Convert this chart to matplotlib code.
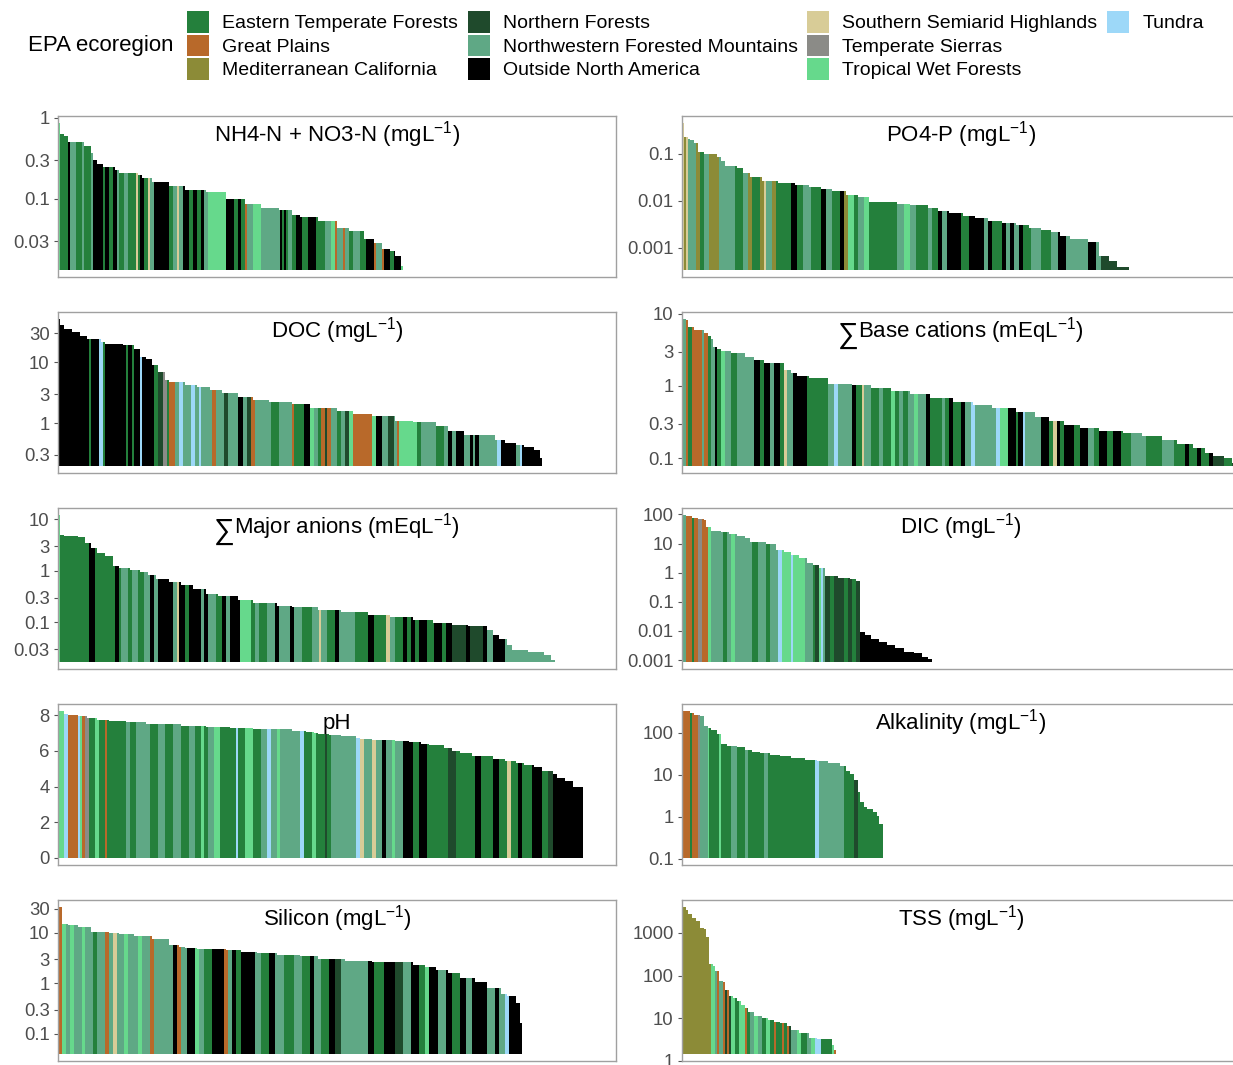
import numpy as np
import matplotlib
matplotlib.use('Agg')
import matplotlib.pyplot as plt
from matplotlib.patches import Patch
from matplotlib.ticker import NullLocator

plt.rcParams['font.family'] = ['Liberation Sans', 'DejaVu Sans']
plt.rcParams['mathtext.fontset'] = 'custom'
plt.rcParams['mathtext.rm'] = 'Liberation Sans'
plt.rcParams['mathtext.it'] = 'Liberation Sans:italic'

# ecoregion codes, legend labels and colours
region_codes = ['E', 'G', 'M', 'N', 'W', 'X', 'S', 'T', 'P', 'U']
region_names = ['Eastern Temperate Forests', 'Great Plains', 'Mediterranean California',
                'Northern Forests', 'Northwestern Forested Mountains', 'Outside North America',
                'Southern Semiarid Highlands', 'Temperate Sierras', 'Tropical Wet Forests', 'Tundra']
region_colors = ['#24803C', '#B8692A', '#8C8B37', '#1F4A2C', '#5FA885', '#000000',
                 '#D8CC97', '#8B8B87', '#66D98C', '#9DD8F8']

# bar heights as (number of sites, value) steps, sorted from high to low
nh4_steps = [(1,0.85),(2,0.63),(2,0.6),(8,0.5),(4,0.45),(1,0.37),(2,0.3),(3,0.27),(6,0.25),(2,0.23),
             (10,0.21),(2,0.195),(5,0.18),(9,0.16),(8,0.145),(11,0.13),(10,0.12),(10,0.1),(8,0.086),
             (9,0.077),(7,0.074),(4,0.064),(9,0.06),(10,0.054),(6,0.044),(8,0.04),(5,0.032),(4,0.029),
             (4,0.024),(3,0.023),(3,0.02),(1,0.0148)]
nh4_regions = ("P1 E4 X1 W3 E3 W1 E4 W1 X5 E1 X2 E2 X2 W1 E3 W2 E4 S1 E1 X2 E2 S1 W2 X8 E2 W2 S1 W2 "
               "X3 E2 X2 E2 X2 W2 P9 X4 E2 X2 E2 G1 W3 P4 W10 X1 E1 X1 E1 W2 E2 X3 E3 X4 E5 W3 P2 G1 "
               "W3 G1 W2 E2 W4 E3 X4 G1 W1 W2 G1 X1 X2 E2 X4 P1")

po4_steps = [(1,0.45),(2,0.23),(1,0.21),(2,0.2),(2,0.17),(3,0.11),(7,0.1),(2,0.088),(2,0.069),(6,0.054),
             (3,0.05),(4,0.039),(6,0.033),(8,0.027),(9,0.024),(7,0.022),(6,0.02),(6,0.018),(7,0.016),
             (6,0.013),(6,0.012),(14,0.0095),(7,0.0086),(9,0.0083),(5,0.0071),(6,0.006),(7,0.0054),
             (6,0.0047),(7,0.0043),(7,0.0038),(7,0.0034),(7,0.0031),(6,0.0026),(5,0.0024),(5,0.0022),
             (5,0.0018),(9,0.0015),(6,0.0013),(5,0.00067),(4,0.00053),(6,0.00038)]
po4_regions = ("S1 M1 S1 W4 M2 E2 W3 M5 W8 E4 W3 M2 E4 M2 S1 W3 M2 E2 E6 X2 E3 W4 E5 X3 W3 E4 X2 M2 "
               "P3 E2 W3 P3 E14 W4 P3 W3 E6 W2 E3 X2 W3 X7 E4 X8 W2 X2 E5 X2 W2 X2 W2 X2 E4 W5 E5 W4 "
               "X4 W11 X4 W3 N14")

doc_steps = [(1,51),(2,41),(4,36),(4,32),(4,27),(7,24),(2,22),(9,20),(6,19),(3,16.5),(3,12.4),(3,11.2),
             (3,9),(4,7),(2,5.1),(8,4.7),(6,4.3),(7,4.0),(6,3.5),(8,3.1),(8,2.7),(8,2.4),(12,2.2),
             (9,2.05),(14,1.8),(8,1.6),(10,1.4),(12,1.3),(9,1.1),(12,1.04),(6,0.91),(8,0.74),(16,0.63),
             (5,0.53),(6,0.47),(4,0.44),(5,0.40),(3,0.36),(1,0.27)]
doc_regions = ("X16 E1 X4 U2 E1 X10 E1 X2 E1 X3 U1 X6 E2 N3 T2 E1 G3 W2 U2 W4 U2 W2 U1 W6 G2 W4 N2 "
               "W5 X2 W2 N2 G2 W8 E4 W7 G1 E5 X3 P2 W2 E2 G2 N1 G2 W3 E2 W2 N2 P2 G9 P2 X3 W3 N3 W2 "
               "G1 P9 E2 W8 E4 W2 X2 W2 X4 W3 X2 W1 X2 W2 W6 U2 X8 W2 U1 X10")

cat_steps = [(2,8.4),(1,8.1),(3,6.6),(5,5.9),(2,5.5),(2,4.9),(1,4.5),(2,3.5),(2,3.3),(5,3.1),(7,2.9),
             (5,2.55),(5,2.3),(10,2.05),(4,1.66),(3,1.5),(6,1.39),(10,1.28),(12,1.07),(10,1.03),
             (10,0.93),(10,0.86),(10,0.77),(12,0.68),(10,0.60),(10,0.54),(12,0.49),(10,0.44),(7,0.37),
             (8,0.33),(8,0.29),(10,0.26),(12,0.24),(10,0.22),(10,0.20),(8,0.18),(8,0.156),(6,0.14),
             (4,0.116),(6,0.107),(4,0.1),(2,0.085)]
cat_regions = ("W2 G1 E2 G5 W1 G2 E2 W2 X1 E2 P2 W3 E3 W9 X3 E2 X3 W2 X3 E2 S2 W3 X7 E10 W3 U2 W7 X2 "
               "E3 S1 W4 E4 W2 E4 P2 E2 W2 E3 W3 P2 W4 X2 E6 W2 E2 X2 E4 X2 W3 U2 W11 U2 P4 X4 E1 X3 "
               "U1 W8 X4 E2 S2 X2 E2 X5 E3 X4 W3 E2 X4 E3 X4 E5 W8 E8 W6 E6 X2 E4 X2 E4 X2 N6 E4 N2")

an_steps = [(1,12),(2,5.0),(7,4.8),(4,4.5),(3,3.4),(3,2.8),(4,2.2),(4,1.9),(3,1.25),(6,1.15),(5,1.02),
            (4,0.93),(4,0.81),(7,0.68),(6,0.60),(6,0.52),(7,0.44),(6,0.35),(10,0.32),(8,0.27),(12,0.24),
            (8,0.21),(13,0.195),(12,0.175),(14,0.155),(11,0.138),(12,0.125),(10,0.112),(10,0.098),
            (8,0.089),(10,0.084),(3,0.069),(3,0.055),(4,0.048),(3,0.036),(8,0.029),(8,0.026),(4,0.023),
            (2,0.018)]
an_regions = ("P1 E15 X2 E10 X2 E1 W4 E2 W3 E3 W3 X2 W2 X7 W2 S1 X3 E2 X6 W2 X2 W4 E3 X2 W2 X4 P6 E2 "
              "W2 E4 W4 X2 W6 X2 W4 E4 W4 S1 W3 E4 X2 W8 E7 X3 E5 S2 W3 E4 X2 E2 X2 E2 X4 E4 X4 E2 X2 "
              "N7 X2 N7 X2 W3 X6 W25")

dic_steps = [(2,93),(3,86),(3,77),(3,71),(1,63),(3,37),(5,27),(4,25),(4,22),(4,18),(3,15),(8,11.6),
             (5,10),(4,6),(4,5),(4,4.1),(4,3.2),(3,2.1),(3,1.8),(3,1.45),(2,0.79),(5,0.76),(6,0.66),
             (3,0.59),(2,0.52),(3,0.0091),(3,0.0074),(4,0.0054),(4,0.0042),(4,0.0032),(5,0.0025),
             (5,0.0019),(4,0.0017),(3,0.0013),(2,0.0011)]
dic_regions = ("W2 G3 E1 G2 T2 G3 P2 W6 E2 W2 P2 W9 E3 W4 E2 W4 U2 P5 U1 P6 W4 E1 N2 P1 U1 W1 N3 E2 "
               "N5 E2 N2 E2 N2 X37")

ph_steps = [(3,8.23),(2,8.08),(5,8.0),(5,7.95),(5,7.85),(6,7.76),(9,7.67),(10,7.62),(8,7.54),(10,7.49),
            (13,7.43),(12,7.36),(12,7.30),(12,7.26),(8,7.21),(7,7.15),(4,7.06),(2,6.99),(6,6.93),
            (6,6.9),(8,6.84),(2,6.75),(6,6.69),(12,6.62),(7,6.56),(6,6.51),(4,6.41),(8,6.32),(4,6.14),
            (4,6.0),(6,5.91),(11,5.73),(6,5.55),(6,5.42),(4,5.3),(5,5.21),(4,5.08),(6,4.9),(2,4.71),
            (4,4.49),(4,4.31),(5,3.97)]
ph_regions = ("P3 U2 G5 U1 P1 G2 T2 E3 P2 E3 G1 E9 W2 E3 W3 W4 E4 W4 E4 W4 E4 W3 E3 P2 E2 W3 P2 E8 "
              "U1 E4 P4 E4 W3 U2 W3 P2 W10 U2 E4 P2 E4 N1 E2 W13 U2 S2 W4 S2 W3 X2 W3 P2 W4 X5 E3 X3 "
              "E3 E8 N4 E7 E3 X3 E6 X3 E4 S2 E4 X2 E4 X5 E3 N3 X15")

alk_steps = [(4,322),(2,294),(3,270),(2,246),(2,143),(2,131),(3,113),(2,91),(3,53),(5,49),(4,45),
             (4,38.5),(4,35),(5,33),(5,30),(6,28.3),(7,25),(6,23),(6,21),(6,18.8),(3,16.5),(2,12.6),
             (2,10.5),(2,7.6),(1,3.9),(2,2.3),(2,1.75),(3,1.5),(2,1.33),(1,1.02),(2,0.69)]
alk_regions = "G4 E1 G3 T1 W4 P1 E5 P1 E5 W2 E4 W2 E8 W2 E24 U2 W12 E5 N2 E13"

si_steps = [(2,32),(3,15.2),(5,14.1),(7,13.1),(9,10.5),(5,9.7),(8,9.3),(9,8.6),(9,7.5),(5,5.7),(3,5.3),
            (6,5.1),(15,4.8),(8,4.6),(8,4.2),(10,3.9),(12,3.6),(9,3.4),(14,3.0),(14,2.8),(21,2.6),
            (6,2.3),(6,2.06),(6,1.85),(6,1.6),(8,1.26),(6,1.06),(7,0.81),(3,0.62),(5,0.56),(2,0.41),
            (1,0.165)]
si_regions = ("G2 P2 W2 P2 W4 P2 W4 E2 W4 G2 W2 S2 W4 P2 W4 P2 W4 G2 W10 X2 G2 W3 X4 P2 W3 E4 X6 G2 "
              "W2 X2 E3 X7 W3 E4 X3 W5 E4 W4 E4 X2 W4 E4 X3 N3 W14 X3 E5 X6 N4 W4 X4 E3 P2 X5 W3 X3 "
              "E4 X3 W3 X3 X5 W4 X2 W3 U2 X7")

tss_steps = [(2,3980),(1,3450),(2,2800),(2,2220),(2,1860),(2,1300),(1,1240),(2,810),(2,185),(1,165),
             (2,131),(2,73),(1,70),(2,45),(2,34),(2,30),(2,25),(2,20),(2,17),(3,13.7),(4,11.5),(3,10),
             (3,8.9),(3,8.4),(4,7.7),(2,6.7),(4,5.4),(5,4.5),(4,3.4),(8,3.2),(1,2.4),(1,1.77)]
tss_regions = ("M14 P2 W1 G1 W2 G1 N1 G1 N1 P2 E2 P2 G1 E2 W2 P2 W2 E2 P2 E2 G1 E2 G1 E2 G1 N1 W3 P2 "
               "E3 W2 P2 U2 E6 P1 G1")

# panel titles (a leading '∑' is drawn larger), bar baselines, y ticks
panels = [
    (r'NH4-N + NO3-N (mgL$^{-1}$)', nh4_steps, nh4_regions, 0.0135, [0.03, 0.1, 0.3, 1], ['0.03', '0.1', '0.3', '1']),
    (r'PO4-P (mgL$^{-1}$)', po4_steps, po4_regions, 0.00034, [0.001, 0.01, 0.1], ['0.001', '0.01', '0.1']),
    (r'DOC (mgL$^{-1}$)', doc_steps, doc_regions, 0.2, [0.3, 1, 3, 10, 30], ['0.3', '1', '3', '10', '30']),
    (r'∑Base cations (mEqL$^{-1}$)', cat_steps, cat_regions, 0.0785, [0.1, 0.3, 1, 3, 10], ['0.1', '0.3', '1', '3', '10']),
    (r'∑Major anions (mEqL$^{-1}$)', an_steps, an_regions, 0.017, [0.03, 0.1, 0.3, 1, 3, 10], ['0.03', '0.1', '0.3', '1', '3', '10']),
    (r'DIC (mgL$^{-1}$)', dic_steps, dic_regions, 0.00088, [0.001, 0.01, 0.1, 1, 10, 100], ['0.001', '0.01', '0.1', '1', '10', '100']),
    ('pH', ph_steps, ph_regions, 0.0, [0, 2, 4, 6, 8], ['0', '2', '4', '6', '8']),
    (r'Alkalinity (mgL$^{-1}$)', alk_steps, alk_regions, 0.107, [0.1, 1, 10, 100], ['0.1', '1', '10', '100']),
    (r'Silicon (mgL$^{-1}$)', si_steps, si_regions, 0.04, [0.1, 0.3, 1, 3, 10, 30], ['0.1', '0.3', '1', '3', '10', '30']),
    (r'TSS (mgL$^{-1}$)', tss_steps, tss_regions, 1.48, [1, 10, 100, 1000], ['1', '10', '100', '1000']),
]

N_MAX = 286
color_of = dict(zip(region_codes, region_colors))


def expand_steps(steps):
    vals = []
    for n, v in steps:
        vals += [v] * n
    return np.array(vals, dtype=float)


def expand_regions(runs, n):
    # run-length codes, fitted to the number of bars
    codes = [(r[0], int(r[1:])) for r in runs.split()]
    total = sum(c for _, c in codes)
    out = []
    acc = 0
    for code, c in codes:
        start = int(round(acc * n / total))
        acc += c
        end = int(round(acc * n / total))
        out += [code] * (end - start)
    return out[:n]


W, H = 1233, 1065
fig = plt.figure(figsize=(W / 100, H / 100), dpi=100)

col_x = [58, 682]
row_top = [116, 312, 508, 704, 900]
ax_w, ax_h = 558, 161
TITLE_FS = 16

for k, (title, steps, runs, base, ticks, labels) in enumerate(panels):
    row, col = divmod(k, 2)
    ax = fig.add_axes([col_x[col] / W, (H - row_top[row] - ax_h) / H, ax_w / W, ax_h / H])
    vals = expand_steps(steps)
    regs = expand_regions(runs, len(vals))
    x = np.arange(1, len(vals) + 1)
    ax.bar(x, vals - base, bottom=base, width=1.0, color=[color_of[r] for r in regs],
           linewidth=0, antialiased=False)
    if title == 'pH':
        lo, hi = base, vals.max()
        pad = 0.05 * (hi - lo)
        ax.set_ylim(lo - pad, hi + pad)
    else:
        ax.set_yscale('log')
        lo, hi = np.log10(base), np.log10(vals.max())
        pad = 0.05 * (hi - lo)
        ax.set_ylim(10 ** (lo - pad), 10 ** (hi + pad))
    ax.set_xlim(0.4, N_MAX + 0.6)
    ax.set_yticks(ticks)
    ax.set_yticklabels(labels)
    ax.yaxis.set_minor_locator(NullLocator())
    ax.set_xticks([])
    ax.tick_params(axis='y', length=3, width=0.8, color='#555555', labelcolor='#4D4D4D',
                   labelsize=13.3, pad=3)
    for s in ax.spines.values():
        s.set_color('#A0A0A0')
        s.set_linewidth(1.0)
    ty = 1 - 19 / ax_h
    if title.startswith('∑'):
        # big summation sign left of the rest of the title
        t = ax.text(0.5 + 10 / ax_w, ty, title[1:], transform=ax.transAxes, ha='center',
                    va='center', fontsize=TITLE_FS, color='black')
        ax.annotate('∑', xy=(0, 0.5), xycoords=t, xytext=(0, -3), textcoords='offset points',
                    ha='right', va='center', fontsize=21, color='black')
    else:
        ax.text(0.5, ty, title, transform=ax.transAxes, ha='center', va='center',
                fontsize=TITLE_FS, color='black')

# legend
handles = [Patch(facecolor=c, edgecolor='none', label=n) for c, n in zip(region_colors, region_names)]
handles += [Patch(facecolor='none', edgecolor='none', label='') for _ in range(2)]
fig.legend(handles=handles, ncol=4, loc='upper left', bbox_to_anchor=(187 / W, 1 - 11 / H),
           frameon=False, fontsize=14, handlelength=1.13, handleheight=1.36, handletextpad=0.67,
           columnspacing=0.5, labelspacing=0.08, borderpad=0, borderaxespad=0)
fig.text(28 / W, 1 - 46 / H, 'EPA ecoregion', ha='left', va='center', fontsize=16)

fig.savefig('out.png', dpi=100)
